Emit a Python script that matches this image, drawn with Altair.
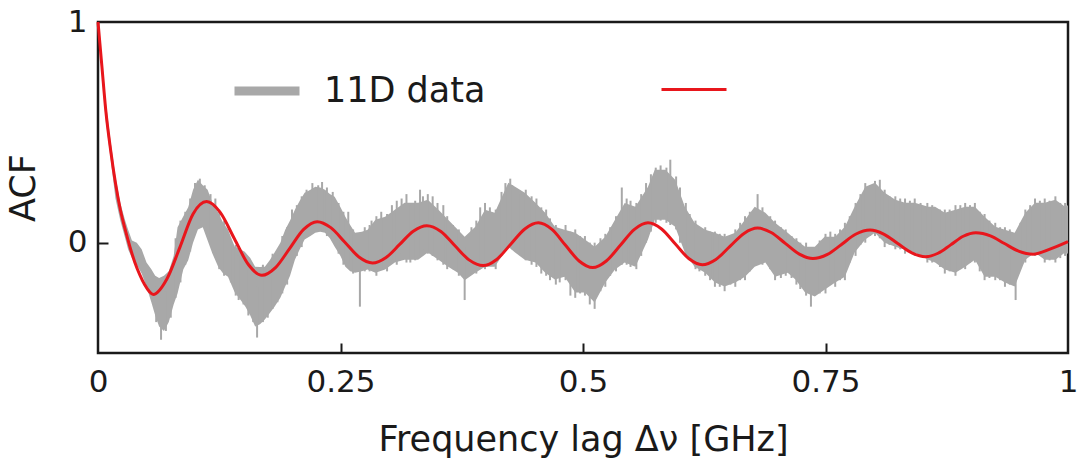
import altair as alt
import pandas as pd

# ---- fitted model curve (red) ----
fit_x = [0.0, 0.004, 0.008, 0.013, 0.018, 0.023, 0.028, 0.033, 0.038, 0.043, 0.048, 0.053, 0.057,
         0.071, 0.0845, 0.098, 0.112,
         0.126, 0.1405, 0.155, 0.169,
         0.183, 0.1975, 0.212, 0.226,
         0.240, 0.2545, 0.269, 0.283,
         0.297, 0.311, 0.325, 0.339,
         0.3535, 0.368, 0.3825, 0.397,
         0.411, 0.4255, 0.440, 0.454,
         0.468, 0.482, 0.496, 0.510,
         0.524, 0.5385, 0.553, 0.567,
         0.581, 0.595, 0.609, 0.623,
         0.637, 0.6515, 0.666, 0.680,
         0.694, 0.7085, 0.723, 0.737,
         0.752, 0.7665, 0.781, 0.796,
         0.810, 0.8245, 0.839, 0.853,
         0.866, 0.879, 0.892, 0.905,
         0.920, 0.9345, 0.949, 0.964,
         0.982, 1.0]
fit_y = [1.0, 0.80, 0.60, 0.42, 0.27, 0.15, 0.06, -0.02, -0.09, -0.145, -0.19, -0.222, -0.235,
         -0.165, -0.02, 0.13, 0.186,
         0.137, 0.019, -0.099, -0.148,
         -0.113, -0.027, 0.060, 0.095,
         0.068, 0.002, -0.065, -0.092,
         -0.067, -0.008, 0.052, 0.077,
         0.051, -0.014, -0.078, -0.104,
         -0.076, -0.007, 0.062, 0.090,
         0.060, -0.012, -0.083, -0.113,
         -0.083, -0.012, 0.060, 0.090,
         0.062, -0.005, -0.072, -0.100,
         -0.076, -0.017, 0.042, 0.066,
         0.046, -0.003, -0.052, -0.072,
         -0.053, -0.008, 0.038, 0.057,
         0.039, -0.004, -0.046, -0.064,
         -0.048, -0.010, 0.029, 0.045,
         0.031, -0.004, -0.038, -0.052,
         -0.028, 0.005]

# ---- measured ACF (grey): envelope of the error-bar band ----
env_x = [0.0, 0.004, 0.008, 0.013, 0.018, 0.023, 0.028, 0.031, 0.035, 0.040, 0.045, 0.050, 0.055,
         0.059, 0.063, 0.068, 0.073, 0.078, 0.082, 0.088, 0.093, 0.098, 0.103, 0.108, 0.113,
         0.118, 0.124, 0.129, 0.134, 0.141, 0.147, 0.152, 0.157, 0.162, 0.167, 0.172, 0.177,
         0.182, 0.188, 0.193, 0.198, 0.203, 0.208, 0.213, 0.219, 0.224, 0.229, 0.234, 0.239,
         0.244, 0.250, 0.255, 0.260, 0.265, 0.272, 0.278, 0.286, 0.296, 0.306, 0.316, 0.330,
         0.340, 0.351, 0.361, 0.371, 0.378, 0.389, 0.399, 0.409, 0.423, 0.430, 0.440, 0.451,
         0.461, 0.471, 0.481, 0.492, 0.502, 0.512, 0.523, 0.533, 0.543, 0.554, 0.567, 0.574,
         0.585, 0.595, 0.605, 0.615, 0.626, 0.636, 0.646, 0.657, 0.667, 0.677, 0.688, 0.698,
         0.711, 0.719, 0.729, 0.739, 0.749, 0.760, 0.770, 0.780, 0.791, 0.801, 0.811, 0.822,
         0.832, 0.842, 0.856, 0.863, 0.873, 0.884, 0.894, 0.904, 0.914, 0.925, 0.935, 0.945,
         0.956, 0.966, 0.976, 0.987, 0.997, 1.0]
env_lo = [0.99, 0.76, 0.55, 0.38, 0.20, 0.10, 0.02, -0.03, -0.07, -0.10, -0.14, -0.20, -0.27,
          -0.33, -0.38, -0.40, -0.36, -0.28, -0.23, -0.12, -0.08, 0.0, 0.06, 0.07, 0.01,
          -0.05, -0.11, -0.14, -0.154, -0.226, -0.26, -0.29, -0.33, -0.38, -0.37, -0.348, -0.32,
          -0.29, -0.25, -0.199, -0.15, -0.077, -0.03, 0.014, 0.03, 0.045, 0.05, 0.045, 0.02,
          -0.018, -0.06, -0.109, -0.13, -0.136, -0.13, -0.122, -0.136, -0.122, -0.09, -0.077, -0.077,
          -0.045, -0.077, -0.109, -0.136, -0.17, -0.136, -0.109, -0.109, -0.018, -0.045, -0.077, -0.09,
          -0.136, -0.167, -0.154, -0.226, -0.226, -0.271, -0.181, -0.122, -0.09, -0.109, 0.014, 0.104,
          0.104, 0.072, -0.045, -0.109, -0.136, -0.181, -0.199, -0.181, -0.154, -0.109, -0.09, -0.154,
          -0.136, -0.167, -0.226, -0.244, -0.213, -0.181, -0.154, -0.045, 0.014, 0.045, 0.0, -0.018,
          -0.032, -0.045, -0.077, -0.09, -0.122, -0.136, -0.109, -0.077, -0.154, -0.154, -0.181, -0.199,
          -0.077, -0.045, -0.077, -0.077, -0.045, -0.05]
env_hi = [1.0, 0.84, 0.64, 0.46, 0.30, 0.18, 0.10, 0.06, 0.01, 0.0, -0.03, -0.09, -0.12,
          -0.15, -0.16, -0.15, -0.13, -0.06, 0.07, 0.12, 0.16, 0.24, 0.285, 0.26, 0.24,
          0.18, 0.136, 0.09, 0.06, -0.018, -0.03, -0.045, -0.07, -0.109, -0.11, -0.109, -0.08,
          -0.045, 0.0, 0.059, 0.10, 0.149, 0.19, 0.226, 0.24, 0.253, 0.25, 0.24, 0.22,
          0.208, 0.16, 0.118, 0.08, 0.045, 0.05, 0.059, 0.104, 0.118, 0.149, 0.181, 0.181,
          0.195, 0.149, 0.104, 0.059, 0.027, 0.072, 0.149, 0.136, 0.271, 0.253, 0.226, 0.181,
          0.136, 0.072, 0.059, 0.045, 0.014, -0.018, 0.027, 0.104, 0.18, 0.163, 0.253, 0.33,
          0.33, 0.285, 0.163, 0.09, 0.059, 0.045, 0.027, 0.045, 0.104, 0.163, 0.136, 0.09,
          0.045, 0.014, -0.018, -0.018, 0.027, 0.027, 0.072, 0.163, 0.253, 0.271, 0.226, 0.195,
          0.181, 0.181, 0.163, 0.163, 0.136, 0.149, 0.163, 0.163, 0.118, 0.072, 0.059, 0.045,
          0.136, 0.181, 0.181, 0.195, 0.163, 0.17]

# ---- measured ACF (grey): individual error bars sticking out of the band ----
spk_x = [0.060, 0.065, 0.070, 0.075, 0.100, 0.105, 0.110, 0.116, 0.121, 0.137, 0.145, 0.155,
         0.160, 0.164, 0.175, 0.185, 0.200, 0.215, 0.221, 0.227, 0.231, 0.242, 0.258, 0.270,
         0.282, 0.292, 0.303, 0.313, 0.322, 0.335, 0.345, 0.356, 0.366, 0.378, 0.385, 0.394,
         0.404, 0.416, 0.420, 0.427, 0.436, 0.447, 0.457, 0.466, 0.476, 0.487, 0.497, 0.507,
         0.518, 0.528, 0.540, 0.549, 0.560, 0.570, 0.580, 0.590, 0.600, 0.610, 0.620, 0.631,
         0.641, 0.652, 0.662, 0.672, 0.680, 0.693, 0.704, 0.715, 0.724, 0.735, 0.744, 0.755,
         0.765, 0.775, 0.786, 0.796, 0.806, 0.816, 0.827, 0.837, 0.848, 0.860, 0.868, 0.878,
         0.889, 0.899, 0.909, 0.919, 0.930, 0.940, 0.946, 0.951, 0.961, 0.971, 0.981, 0.992]
spk_lo = [-0.36, -0.44, -0.40, -0.34, 0.05, 0.10, 0.08, 0.0, -0.05, -0.18, -0.26, -0.33,
          -0.36, -0.43, -0.34, -0.27, -0.08, 0.05, 0.07, 0.08, 0.06, 0.01, -0.09, -0.29,
          -0.10, -0.12, -0.08, -0.05, -0.09, -0.03, -0.06, -0.10, -0.12, -0.26, -0.14, -0.12,
          -0.10, -0.04, -0.01, -0.03, -0.06, -0.10, -0.14, -0.17, -0.18, -0.24, -0.23, -0.28,
          -0.22, -0.15, -0.10, -0.11, -0.06, 0.05, 0.10, 0.08, 0.0, -0.08, -0.13, -0.17,
          -0.20, -0.19, -0.17, -0.13, -0.10, -0.12, -0.16, -0.16, -0.21, -0.29, -0.23, -0.19,
          -0.17, -0.09, -0.01, 0.03, 0.02, -0.01, -0.03, -0.04, -0.06, -0.09, -0.11, -0.13,
          -0.12, -0.09, -0.13, -0.16, -0.17, -0.19, -0.26, -0.11, -0.06, -0.06, -0.08, -0.07]
spk_hi = [-0.20, -0.25, -0.22, -0.15, 0.27, 0.29, 0.26, 0.22, 0.20, 0.0, -0.06, -0.12,
          -0.15, -0.20, -0.15, -0.06, 0.15, 0.24, 0.27, 0.26, 0.275, 0.23, 0.14, -0.05,
          0.10, 0.14, 0.17, 0.20, 0.17, 0.21, 0.21, 0.17, 0.08, -0.02, 0.07, 0.16,
          0.16, 0.23, 0.27, 0.26, 0.22, 0.21, 0.16, 0.11, 0.05, 0.05, 0.03, 0.0,
          0.02, 0.07, 0.25, 0.19, 0.22, 0.31, 0.35, 0.376, 0.25, 0.13, 0.07, 0.05,
          0.04, 0.03, 0.09, 0.14, 0.22, 0.12, 0.07, 0.03, 0.0, -0.03, 0.01, 0.05,
          0.06, 0.12, 0.22, 0.26, 0.285, 0.21, 0.20, 0.19, 0.18, 0.17, 0.15, 0.15,
          0.17, 0.17, 0.14, 0.10, 0.07, 0.06, 0.03, 0.09, 0.17, 0.19, 0.19, 0.18]

# more error bars in between (band texture)
spk2_x = [0.080, 0.085, 0.090, 0.095, 0.125, 0.130, 0.142, 0.150, 0.170, 0.180, 0.190, 0.195,
          0.205, 0.210, 0.236, 0.248, 0.253, 0.263, 0.275, 0.280, 0.287, 0.298, 0.308, 0.318,
          0.327, 0.332, 0.340, 0.350, 0.360, 0.372, 0.390, 0.399, 0.410, 0.425, 0.441, 0.452,
          0.462, 0.472, 0.482, 0.492, 0.502, 0.512, 0.523, 0.534, 0.545, 0.555, 0.565, 0.575,
          0.586, 0.596, 0.606, 0.616, 0.626, 0.636, 0.646, 0.657, 0.667, 0.685, 0.698, 0.709,
          0.720, 0.730, 0.750, 0.760, 0.770, 0.781, 0.791, 0.801, 0.811, 0.822, 0.832, 0.842,
          0.855, 0.873, 0.884, 0.894, 0.904, 0.914, 0.925, 0.935, 0.956, 0.966, 0.976, 0.987,
          0.997]
spk2_lo = [-0.25, -0.18, -0.10, -0.04, -0.12, -0.15, -0.24, -0.28, -0.36, -0.30, -0.23, -0.19,
           -0.06, -0.02, 0.03, -0.05, -0.10, -0.14, -0.13, -0.13, -0.15, -0.13, -0.10, -0.09,
           -0.08, -0.06, -0.05, -0.08, -0.12, -0.15, -0.14, -0.12, -0.12, -0.02, -0.08, -0.11,
           -0.15, -0.19, -0.17, -0.25, -0.24, -0.30, -0.20, -0.13, -0.10, -0.12, 0.0, 0.09,
           0.09, 0.06, -0.06, -0.12, -0.15, -0.20, -0.22, -0.20, -0.17, -0.10, -0.17, -0.15,
           -0.19, -0.24, -0.23, -0.20, -0.17, -0.06, 0.0, 0.03, -0.02, -0.03, -0.05, -0.06,
           -0.09, -0.14, -0.15, -0.12, -0.09, -0.17, -0.17, -0.20, -0.09, -0.06, -0.09, -0.09,
           -0.06]
spk2_hi = [0.02, 0.10, 0.14, 0.20, 0.15, 0.10, -0.01, -0.04, -0.10, -0.05, 0.03, 0.07,
           0.17, 0.21, 0.25, 0.18, 0.14, 0.06, 0.07, 0.08, 0.12, 0.13, 0.19, 0.22,
           0.19, 0.24, 0.22, 0.18, 0.12, 0.06, 0.10, 0.18, 0.15, 0.29, 0.24, 0.20,
           0.15, 0.08, 0.08, 0.06, 0.03, 0.0, 0.04, 0.12, 0.20, 0.18, 0.27, 0.34,
           0.34, 0.30, 0.18, 0.10, 0.07, 0.05, 0.04, 0.06, 0.12, 0.16, 0.10, 0.06,
           0.02, 0.0, 0.04, 0.04, 0.09, 0.18, 0.27, 0.28, 0.24, 0.21, 0.20, 0.20,
           0.18, 0.15, 0.17, 0.18, 0.18, 0.13, 0.09, 0.07, 0.15, 0.20, 0.20, 0.21,
           0.18]

series_names = ["11D data", "fit"]
x_ticks = [0, 0.25, 0.5, 0.75, 1]
x_inner_ticks = [0.25, 0.5, 0.75]
y_labels = [0, 1]
y_inner_ticks = [0]

GRAY = "#a8a8a8"
RED = "#e8161c"
INK = "#1a1a1a"
FONT = "DejaVu Sans"
W, H = 970, 331

fit_df = pd.DataFrame({"x": fit_x, "y": fit_y, "series": series_names[1]})
env_df = pd.DataFrame({"x": env_x, "lo": env_lo, "hi": env_hi})
spk_df = pd.DataFrame({"x": spk_x + spk2_x, "lo": spk_lo + spk2_lo, "hi": spk_hi + spk2_hi,
                       "series": series_names[0]})

xs = alt.Scale(domain=[0, 1], nice=False, zero=False)
ys = alt.Scale(domain=[-0.5, 1], nice=False, zero=False)
color_scale = alt.Scale(domain=series_names, range=[GRAY, RED])
width_scale = alt.Scale(domain=series_names, range=[9, 3])

legend = alt.Legend(
    title=None, orient="none", legendX=132, legendY=32, direction="horizontal",
    symbolType="stroke", symbolSize=4225,
    labelFontSize=35, labelFont=FONT, labelColor=INK, labelOffset=20, labelLimit=500,
    columnPadding=169,
    labelExpr="datum.value == 'fit' ? '' : datum.label",
)

band = alt.Chart(env_df).mark_area(color=GRAY, opacity=1, interpolate="linear").encode(
    x=alt.X("x:Q", scale=xs, axis=alt.Axis(
        values=x_ticks, format=".2~f", ticks=False, domain=False, grid=False,
        labelFontSize=31, labelFont=FONT, labelColor=INK, labelPadding=14,
        labelFlush=False, title="Frequency lag Δν [GHz]", titleFontSize=35,
        titleFont=FONT, titleFontWeight="normal", titleColor=INK, titlePadding=25)),
    y=alt.Y("lo:Q", scale=ys, axis=alt.Axis(
        values=y_labels, format=".2~f", ticks=False, domain=False, grid=False,
        labelFontSize=31, labelFont=FONT, labelColor=INK, labelPadding=11,
        title="ACF", titleFontSize=35, titleFont=FONT, titleFontWeight="normal",
        titleColor=INK, titlePadding=26)),
    y2="hi:Q",
)

spikes = alt.Chart(spk_df).mark_rule(strokeWidth=2).encode(
    x=alt.X("x:Q", scale=xs, axis=None),
    y=alt.Y("lo:Q", scale=ys, axis=None),
    y2="hi:Q",
    color=alt.Color("series:N", scale=color_scale, legend=legend),
)

fit = alt.Chart(fit_df).mark_line(interpolate="monotone").encode(
    x=alt.X("x:Q", scale=xs, axis=alt.Axis(
        orient="top", offset=-H, values=x_inner_ticks, labels=False, domain=False,
        grid=False, ticks=True, tickSize=10, tickWidth=2, tickColor=INK, title=None)),
    y=alt.Y("y:Q", scale=ys, axis=alt.Axis(
        orient="right", offset=-W, values=y_inner_ticks, labels=False, domain=False,
        grid=False, ticks=True, tickSize=10, tickWidth=2, tickColor=INK, title=None)),
    color=alt.Color("series:N", scale=color_scale, legend=legend),
    strokeWidth=alt.StrokeWidth("series:N", scale=width_scale, legend=legend),
)

chart = alt.layer(band, spikes, fit).resolve_axis(x="independent", y="independent").properties(
    width=W, height=H,
    autosize=alt.AutoSizeParams(type="none"),
    padding={"left": 98, "top": 22, "right": 10, "bottom": 117},
    background="white",
).configure_view(stroke=INK, strokeWidth=2.5)

chart.save("out.html", embed_options={"renderer": "svg", "actions": False})
